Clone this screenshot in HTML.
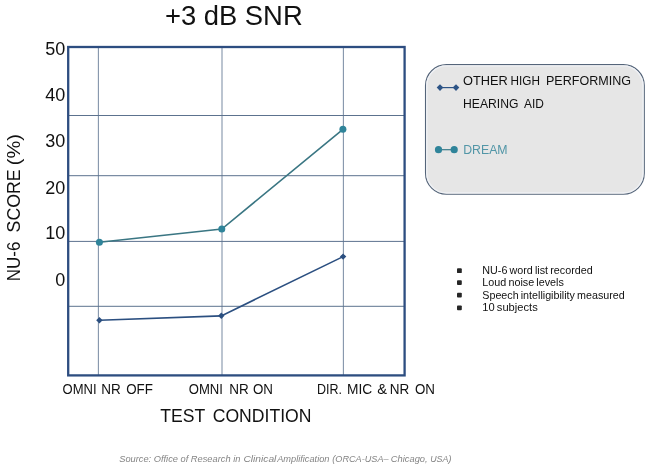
<!DOCTYPE html>
<html><head><meta charset="utf-8">
<style>
html,body{margin:0;padding:0;background:#fff;}
body{width:650px;height:470px;overflow:hidden;}
svg{display:block;font-family:"Liberation Sans",Arial,sans-serif;}
</style></head><body>
<svg width="650" height="470" viewBox="0 0 650 470">
<rect width="650" height="470" fill="#fff"/>
<!-- grid -->
<g stroke="#8394aa" stroke-width="1.1" fill="none">
<line x1="98.4" y1="47" x2="98.4" y2="375"/>
<line x1="222" y1="47" x2="222" y2="375"/>
<line x1="343.4" y1="47" x2="343.4" y2="375"/>
</g>
<g stroke="#5c728e" stroke-width="1" fill="none">
<line x1="68" y1="115.5" x2="405" y2="115.5"/>
<line x1="68" y1="175.7" x2="405" y2="175.7"/>
<line x1="68" y1="241.4" x2="405" y2="241.4"/>
<line x1="68" y1="306.3" x2="405" y2="306.3"/>
</g>
<!-- frame -->
<rect x="68.2" y="47" width="336.4" height="328.4" fill="none" stroke="#2d4d80" stroke-width="2.3"/>
<!-- series -->
<polyline points="99.4,242.3 221.8,229 342.9,129.3" fill="none" stroke="#3a7683" stroke-width="1.6"/>
<g fill="#2f849a"><circle cx="99.4" cy="242.3" r="3.5"/><circle cx="221.8" cy="229" r="3.5"/><circle cx="342.9" cy="129.3" r="3.5"/></g>
<polyline points="99.4,320.3 221.3,315.9 343.1,256.6" fill="none" stroke="#2b4f80" stroke-width="1.6"/>
<g fill="#2b4f80">
<path d="M99.4 317.1l3.2 3.2-3.2 3.2-3.2-3.2z"/><path d="M221.3 312.6l3.2 3.2-3.2 3.2-3.2-3.2z"/><path d="M343.1 253.4l3.2 3.2-3.2 3.2-3.2-3.2z"/>
</g>
<!-- title -->
<text x="233.8" y="25" font-size="27.4" text-anchor="middle" fill="#111">+3 dB SNR</text>
<!-- y labels -->
<g font-size="18" text-anchor="end" fill="#111">
<text x="65.3" y="54.6">50</text>
<text x="65.3" y="101.3">40</text>
<text x="65.3" y="147.4">30</text>
<text x="65.3" y="193.5">20</text>
<text x="65.3" y="238.8">10</text>
<text x="65.3" y="285.5">0</text>
</g>
<g transform="translate(19.8,0) rotate(-90)" font-size="18" fill="#111">
<text y="0"><tspan x="-281.2" textLength="39.6" lengthAdjust="spacingAndGlyphs">NU-6</tspan> <tspan x="-232.4" textLength="63" lengthAdjust="spacingAndGlyphs">SCORE</tspan> <tspan x="-165.3" textLength="31.2" lengthAdjust="spacingAndGlyphs">(%)</tspan></text>
</g>
<!-- x labels -->
<g font-size="14.5" fill="#111">
<text y="393.9"><tspan x="62.6" textLength="34" lengthAdjust="spacingAndGlyphs">OMNI</tspan> <tspan x="101.3" textLength="19.5" lengthAdjust="spacingAndGlyphs">NR</tspan> <tspan x="126.2" textLength="26.7" lengthAdjust="spacingAndGlyphs">OFF</tspan></text>
<text y="393.9"><tspan x="188.7" textLength="34.2" lengthAdjust="spacingAndGlyphs">OMNI</tspan> <tspan x="229.2" textLength="19.5" lengthAdjust="spacingAndGlyphs">NR</tspan> <tspan x="252.9" textLength="20" lengthAdjust="spacingAndGlyphs">ON</tspan></text>
<text y="393.9"><tspan x="316.9" textLength="25" lengthAdjust="spacingAndGlyphs">DIR.</tspan> <tspan x="347.1" textLength="25.2" lengthAdjust="spacingAndGlyphs">MIC</tspan> <tspan x="377.2" textLength="9.8" lengthAdjust="spacingAndGlyphs">&amp;</tspan> <tspan x="389.7" textLength="19.5" lengthAdjust="spacingAndGlyphs">NR</tspan> <tspan x="414.9" textLength="20" lengthAdjust="spacingAndGlyphs">ON</tspan></text>
</g>
<text x="235.8" y="422.2" font-size="17.6" word-spacing="3" text-anchor="middle" fill="#111">TEST CONDITION</text>
<g font-size="9.6" font-style="italic" fill="#858585">
<text y="461.6"><tspan x="119.2" textLength="121.2" lengthAdjust="spacingAndGlyphs">Source: Office of Research in</tspan> <tspan x="243.4" textLength="33" lengthAdjust="spacingAndGlyphs">Clinical</tspan> <tspan x="277.2" textLength="52.3" lengthAdjust="spacingAndGlyphs">Amplification</tspan> <tspan x="332.3" textLength="56.3" lengthAdjust="spacingAndGlyphs">(ORCA-USA–</tspan> <tspan x="390.8" textLength="36.8" lengthAdjust="spacingAndGlyphs">Chicago,</tspan> <tspan x="430.2" textLength="21.2" lengthAdjust="spacingAndGlyphs">USA)</tspan></text>
</g>
<!-- legend -->
<rect x="425.5" y="64.6" width="218.8" height="129.6" rx="21" ry="21" fill="#e6e6e6" stroke="#55657a" stroke-width="1.1"/>
<rect x="426.8" y="65.9" width="216.2" height="127" rx="19.8" ry="19.8" fill="none" stroke="#eff1f5" stroke-width="1.3"/>
<line x1="440" y1="87.6" x2="456" y2="87.6" stroke="#2d5486" stroke-width="1.2"/>
<g fill="#2d5486"><path d="M440 84.2l3.3 3.4-3.3 3.4-3.3-3.4z"/><path d="M456 84.2l3.3 3.4-3.3 3.4-3.3-3.4z"/></g>
<g font-size="13" fill="#111">
<text y="85.2"><tspan x="463" textLength="44.8" lengthAdjust="spacingAndGlyphs">OTHER</tspan> <tspan x="510.5" textLength="29.4" lengthAdjust="spacingAndGlyphs">HIGH</tspan> <tspan x="546" textLength="85" lengthAdjust="spacingAndGlyphs">PERFORMING</tspan></text>
<text y="107.8"><tspan x="463" textLength="55.4" lengthAdjust="spacingAndGlyphs">HEARING</tspan> <tspan x="524" textLength="19.9" lengthAdjust="spacingAndGlyphs">AID</tspan></text>
</g>
<line x1="438.5" y1="149.7" x2="454.2" y2="149.7" stroke="#377a88" stroke-width="1.2"/>
<g fill="#2f849a"><circle cx="438.5" cy="149.7" r="3.6"/><circle cx="454.2" cy="149.7" r="3.6"/></g>
<text x="463.2" y="153.8" font-size="13.4" fill="#5296a7" textLength="44.4" lengthAdjust="spacingAndGlyphs">DREAM</text>
<!-- bullets -->
<g fill="#262626">
<rect x="457" y="268.3" width="4.8" height="4.8" rx="0.9"/><rect x="457" y="280.2" width="4.8" height="4.8" rx="0.9"/><rect x="457" y="292.7" width="4.8" height="4.8" rx="0.9"/><rect x="457" y="305.4" width="4.8" height="4.8" rx="0.9"/>
</g>
<g font-size="11" fill="#111" word-spacing="-0.9">
<text x="482.3" y="273.8" textLength="110.4" lengthAdjust="spacingAndGlyphs">NU-6 word list recorded</text>
<text x="482.3" y="285.9" textLength="81.6" lengthAdjust="spacingAndGlyphs">Loud noise levels</text>
<text x="482.3" y="298.5" textLength="142.4" lengthAdjust="spacingAndGlyphs">Speech intelligibility measured</text>
<text x="482.3" y="310.8" textLength="55.4" lengthAdjust="spacingAndGlyphs">10 subjects</text>
</g>
</svg>
</body></html>
